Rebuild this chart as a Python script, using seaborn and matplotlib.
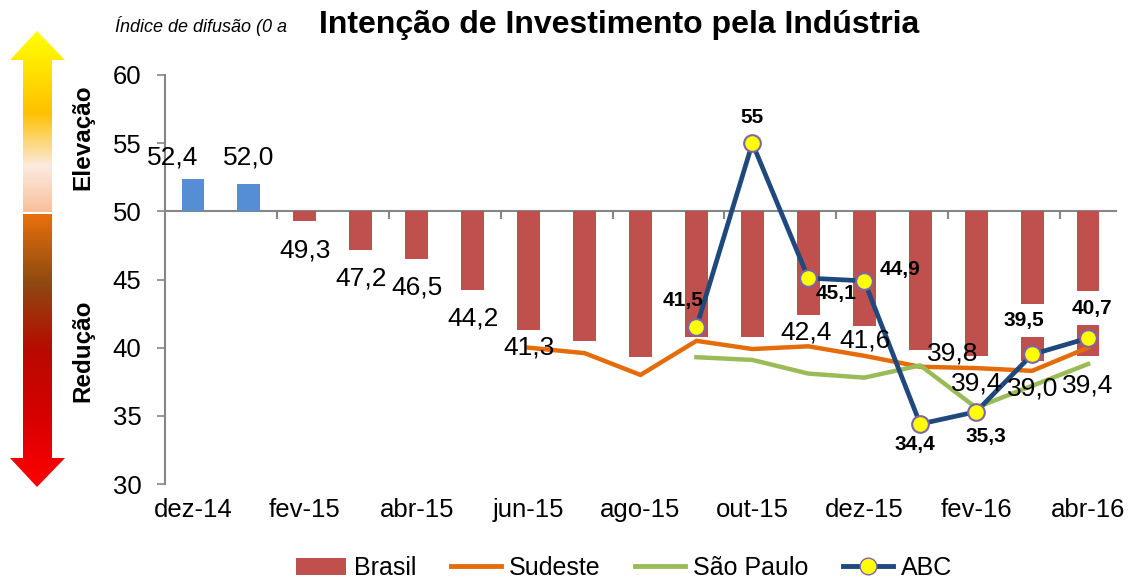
import numpy as np
import pandas as pd
import matplotlib
matplotlib.use("Agg")
import matplotlib.pyplot as plt
import matplotlib.patches as mpatches
from matplotlib.lines import Line2D
from matplotlib.colors import LinearSegmentedColormap
import seaborn as sns

# ── Data ───────────────────────────────────────────────────────────────────────
MONTHS = ["dez-14", "jan-15", "fev-15", "mar-15", "abr-15", "mai-15", "jun-15",
          "jul-15", "ago-15", "set-15", "out-15", "nov-15", "dez-15", "jan-16",
          "fev-16", "mar-16", "abr-16"]
BRASIL = [52.4, 52.0, 49.3, 47.2, 46.5, 44.2, 41.3, 40.5, 39.3, 40.8, 40.8,
          42.4, 41.6, 39.8, 39.4, 39.0, 39.4]
SUDESTE = [None, None, None, None, None, None, 40.0, 39.6, 38.0, 40.5, 39.9,
           40.1, 39.4, 38.6, 38.5, 38.3, 40.0]
SAO_PAULO = [None] * 9 + [39.3, 39.1, 38.1, 37.8, 38.7, 35.6, 37.2, 38.8]
ABC = [None] * 9 + [41.5, 55.0, 45.1, 44.9, 34.4, 35.3, 39.5, 40.7]

# which Brasil values get a label (some are hidden in the original)
BRASIL_SHOW = [True, True, True, True, True, True, True, False, False, False,
               False, True, True, True, True, True, True]

BASE = 50

# ── Colours ────────────────────────────────────────────────────────────────────
COL_POS = "#558ED5"
COL_NEG = "#C0504D"
COL_SUD = "#E46C0A"
COL_SP = "#9BBB59"
COL_ABC = "#1F497D"
COL_AXIS = "#868686"

plt.rcParams["font.family"] = ["Liberation Sans", "DejaVu Sans"]

df = pd.DataFrame({"month": MONTHS, "brasil": BRASIL})
df["idx"] = np.arange(len(df))
df["dev"] = df["brasil"] - BASE
df["sign"] = np.where(df["dev"] >= 0, "pos", "neg")
df["sudeste"] = pd.to_numeric(pd.Series(SUDESTE), errors="coerce")
df["sp"] = pd.to_numeric(pd.Series(SAO_PAULO), errors="coerce")
df["abc"] = pd.to_numeric(pd.Series(ABC), errors="coerce")

W, H = 1134, 581
fig = plt.figure(figsize=(W / 100, H / 100), dpi=100)

# ── Gradient arrows (left) ─────────────────────────────────────────────────────
ax_bg = fig.add_axes([0, 0, 1, 1], zorder=-1)
ax_bg.set_xlim(0, W)
ax_bg.set_ylim(H, 0)
ax_bg.axis("off")

up_cmap = LinearSegmentedColormap.from_list(
    "up", [(0.0, "#FFFF00"), (0.12, "#FFF000"), (0.45, "#FFC000"),
           (0.75, "#FBEAE0"), (1.0, "#F8C09A")])
dn_cmap = LinearSegmentedColormap.from_list(
    "dn", [(0.0, "#E8700C"), (0.25, "#8E4A10"), (0.5, "#B80A00"),
           (0.75, "#D80000"), (1.0, "#FF0000")])

def grad_arrow(poly, y0, y1, cmap):
    grad = np.linspace(0, 1, 256).reshape(-1, 1)
    im = ax_bg.imshow(grad, cmap=cmap, extent=(0, 80, y1, y0), aspect="auto")
    patch = mpatches.Polygon(poly, closed=True, facecolor="none", edgecolor="none",
                             transform=ax_bg.transData)
    ax_bg.add_patch(patch)
    im.set_clip_path(patch)

grad_arrow([(37, 31), (65, 60), (52, 60), (52, 212), (23, 212), (23, 60), (10, 60)],
           31, 212, up_cmap)
grad_arrow([(23, 214), (52, 214), (52, 458), (65, 458), (37, 487), (10, 458), (23, 458)],
           214, 487, dn_cmap)
ax_bg.set_xlim(0, W)
ax_bg.set_ylim(H, 0)

fig.text(83 / W, 1 - 137 / H, "Elevação", rotation=90, ha="center", va="center",
         fontsize=17.5, fontweight="bold")
fig.text(83 / W, 1 - 351 / H, "Redução", rotation=90, ha="center", va="center",
         fontsize=17.5, fontweight="bold")

# ── Main axes ──────────────────────────────────────────────────────────────────
ax = fig.add_axes([165 / W, 1 - 484 / H, (1116 - 165) / W, (484 - 75) / H])

sns.barplot(data=df, x="idx", y="dev", hue="sign", palette={"pos": COL_POS, "neg": COL_NEG},
            dodge=False, width=0.41, bottom=BASE, legend=False, ax=ax, zorder=1,
            saturation=1, order=list(range(len(df))))

sud = df.dropna(subset=["sudeste"])
sp = df.dropna(subset=["sp"])
abc = df.dropna(subset=["abc"])
sns.lineplot(data=sud, x="idx", y="sudeste", color=COL_SUD, lw=3.2, ax=ax, zorder=3)
sns.lineplot(data=sp, x="idx", y="sp", color=COL_SP, lw=3.2, ax=ax, zorder=3)
sns.lineplot(data=abc, x="idx", y="abc", color=COL_ABC, lw=3.4, marker="o",
             markersize=12, markerfacecolor="#FFFF00", markeredgecolor="#7F64A8",
             markeredgewidth=1.5, ax=ax, zorder=4)

ax.set_xlim(-0.5, len(df) - 0.5)
ax.set_ylim(30, 60)
ax.set_xlabel("")
ax.set_ylabel("")
ax.set_yticks(range(30, 61, 5))
ax.set_xticks(range(0, len(df), 2))
ax.set_xticklabels(MONTHS[::2])
ax.tick_params(axis="x", length=0, pad=10, labelsize=18.5)
ax.tick_params(axis="y", length=6, width=1.2, color=COL_AXIS, pad=11, labelsize=18.5)
for s in ["top", "right", "bottom"]:
    ax.spines[s].set_visible(False)
ax.spines["left"].set_color(COL_AXIS)
ax.spines["left"].set_linewidth(1.5)

# axis line at 50 with boundary ticks
sec = ax.secondary_xaxis((BASE - 30) / 30)
sec.set_alignment("bottom")
sec_ticks = np.arange(1.5, len(df) - 1, 2)
sec.set_xticks(sec_ticks, labels=[""] * len(sec_ticks))
sec.tick_params(direction="out", length=6, width=1.5, color=COL_AXIS)
sec.spines["bottom"].set_color(COL_AXIS)
sec.spines["bottom"].set_linewidth(1.5)

# ── Brasil labels (offsets in pixels from bar end) ─────────────────────────────
BR_OFF = [(-20, 21), (0, 27), (0, -30), (0, -29), (0, -28), (0, -28), (0, -18),
          (0, 0), (0, 0), (0, 0), (0, 0), (-2, -18), (1, -15), (32, -3),
          (1, -28), (1, -27), (0, -30)]
for i, (v, show, off) in enumerate(zip(BRASIL, BRASIL_SHOW, BR_OFF)):
    if not show:
        continue
    ax.annotate(f"{v:.1f}".replace(".", ","), (i, v), xytext=off,
                textcoords="offset pixels", ha="center", va="center",
                fontsize=19, zorder=5)

# ── ABC labels ─────────────────────────────────────────────────────────────────
ABC_OFF = {9: (-13, 27), 10: (0, 26), 11: (28, -15), 12: (36, 11),
           13: (-5, -20), 14: (10, -25), 15: (-8, 34), 16: (4, 30)}
ABC_BOX = {15, 16}
for i, off in ABC_OFF.items():
    v = ABC[i]
    txt = f"{v:g}".replace(".", ",")
    kw = {}
    if i in ABC_BOX:
        kw["bbox"] = dict(boxstyle="square,pad=0.35", facecolor="white", edgecolor="none")
    ax.annotate(txt, (i, v), xytext=off, textcoords="offset pixels",
                ha="center", va="center", fontsize=15, fontweight="bold",
                zorder=6, **kw)

# ── Titles ─────────────────────────────────────────────────────────────────────
fig.text(115 / W, 1 - 26 / H, "Índice de difusão (0 a", fontsize=13, style="italic",
         ha="left", va="center")
fig.text(619 / W, 1 - 25 / H, "Intenção de Investimento pela Indústria", fontsize=23,
         fontweight="bold", ha="center", va="center")

# ── Legend ─────────────────────────────────────────────────────────────────────
handles = [
    mpatches.Patch(facecolor=COL_NEG, label="Brasil"),
    Line2D([0], [0], color=COL_SUD, lw=3.5, label="Sudeste"),
    Line2D([0], [0], color=COL_SP, lw=3.5, label="São Paulo"),
    Line2D([0], [0], color=COL_ABC, lw=3.5, marker="o", markersize=12,
           markerfacecolor="#FFFF00", markeredgecolor="#7F64A8", label="ABC"),
]
fig.legend(handles=handles, loc="center", bbox_to_anchor=(624 / W, 1 - 568 / H),
           ncol=4, frameon=False, fontsize=18, handlelength=2.0,
           handletextpad=0.3, columnspacing=1.4, borderaxespad=0)

fig.savefig("out.png", dpi=100)
